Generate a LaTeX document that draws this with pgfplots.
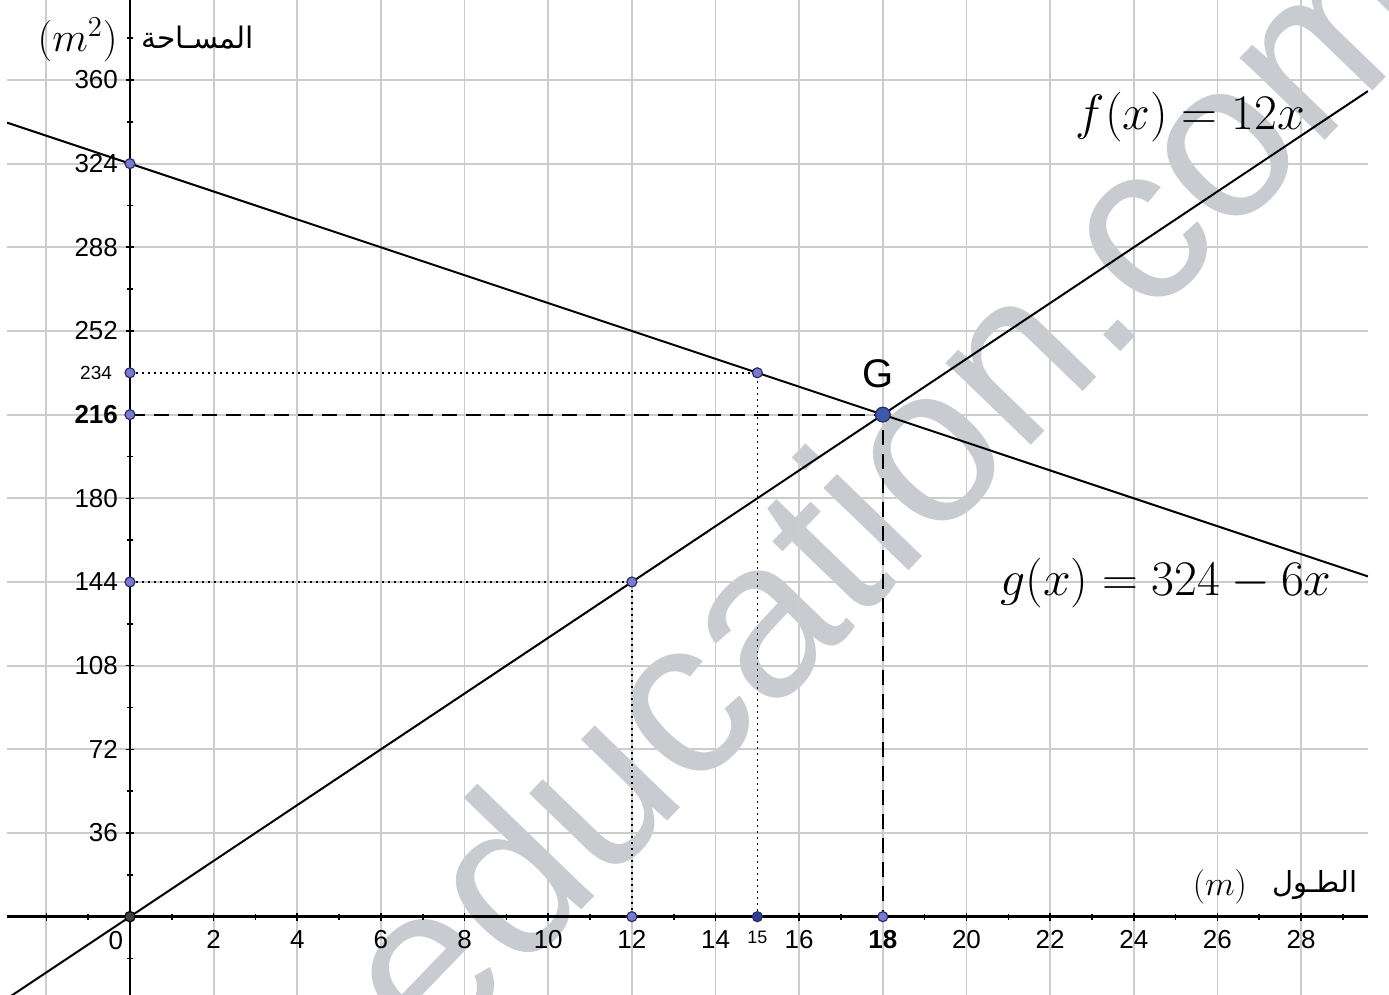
\documentclass[border=0pt]{standalone}
\usepackage[no-math]{fontspec}
\setmainfont{Liberation Sans}
\newfontfamily\arabicfont[Script=Arabic]{DejaVu Sans}
\usepackage{pgfplots}
\pgfplotsset{compat=1.18}
\TeXXeTstate=1
\definecolor{wm}{RGB}{200,204,209}
\definecolor{ptfill}{RGB}{122,122,208}
\definecolor{ptdraw}{RGB}{45,45,95}
\definecolor{gfill}{RGB}{62,88,172}
\definecolor{pfifteen}{RGB}{42,62,150}
\begin{document}
\begin{tikzpicture}
\useasboundingbox (0,0) rectangle (694.5pt,497.5pt);
% watermark (behind everything)
\begin{scope}
\clip (0,0) rectangle (694.5pt,497.5pt);
\node[rotate=46, anchor=base west, text=wm, font=\fontsize{112}{112}\selectfont, inner sep=0pt] at (215.8pt,-35.4pt) {education.com};
\end{scope}
\begin{axis}[
  at={(3.5pt,0pt)}, anchor=south west,
  scale only axis, width=680.5pt, height=497.5pt,
  xmin=-2.94, xmax=29.6, ymin=-33.7, ymax=394.4,
  axis lines=middle,
  axis line style={-, line width=1.2pt, black},
  grid=major,
  major grid style={gray!40, line width=0.9pt},
  xtick={-2,2,4,6,8,10,12,14,16,18,20,22,24,26,28},
  xticklabels={,2,4,6,8,10,12,14,16,\textbf{18},20,22,24,26,28},
  minor xtick={-1,1,3,...,29},
  ytick={36,72,108,144,180,216,252,288,324,360},
  yticklabels={36,72,108,144,180,\textbf{216},252,288,324,360},
  minor ytick={-18,18,54,...,378},
  extra x ticks={15}, extra x tick labels={15},
  extra y ticks={234}, extra y tick labels={234},
  extra x tick style={grid=none, xticklabel style={font=\fontsize{9}{10}\selectfont}},
  extra y tick style={grid=none, yticklabel style={font=\fontsize{9.5}{10}\selectfont, xshift=-3pt}},
  tick style={black, line width=0.8pt},
  major tick length=4pt, minor tick length=3pt, tick align=center,
  /pgf/number format/assume math mode=true,
  xticklabel style={font=\fontsize{13}{15}\selectfont, anchor=north, yshift=-1.5pt},
  yticklabel style={font=\fontsize{13}{15}\selectfont, anchor=east, xshift=-0.5pt},
  clip=true,
]
% guide lines
\addplot[black, line width=0.8pt, dash pattern=on 0.8pt off 2.2pt] coordinates {(0,234) (15,234) (15,0)};
\addplot[black, line width=0.8pt, dash pattern=on 0.8pt off 2.2pt] coordinates {(0,144) (12,144) (12,0)};
\addplot[black, line width=1pt, dash pattern=on 7.5pt off 4.5pt] coordinates {(0,216) (18,216) (18,0)};

% f(x) = 12x
\addplot[black, line width=1pt] coordinates {(-2.94,-35.28) (29.6,355.2)};
% g(x) = 324 - 6x
\addplot[black, line width=1pt] coordinates {(-2.94,341.64) (29.6,146.4)};

% points
\addplot[only marks, mark=*, mark size=2.5pt, mark options={fill=ptfill, draw=ptdraw, line width=0.6pt}]
  coordinates {(0,324) (0,234) (0,216) (0,144) (15,234) (12,144) (12,0) (18,0)};
\addplot[only marks, mark=*, mark size=2.5pt, mark options={fill=pfifteen, draw=ptdraw, line width=0.6pt}]
  coordinates {(15,0)};
\addplot[only marks, mark=*, mark size=2.6pt, mark options={fill=black!75, draw=black, line width=0.6pt}]
  coordinates {(0,0)};
\addplot[only marks, mark=*, mark size=3.7pt, mark options={fill=gfill, draw=ptdraw, line width=0.6pt}]
  coordinates {(18,216)};

% labels
\node[font=\fontsize{24}{28}\selectfont] at (axis cs:25.35,344.1) {$f(x)=12x$};
\node[font=\fontsize{24.5}{28}\selectfont] at (axis cs:24.77,143.6) {$g(x)=324-6x$};
\node[font=\fontsize{20}{22}\selectfont] at (axis cs:17.88,233.4) {G};
\node[font=\fontsize{22.5}{26}\selectfont] at (axis cs:-1.25,377.2) {$(m^2)$};
\node[font=\fontsize{14.8}{18}\selectfont] at (axis cs:1.62,378.0) {\arabicfont\beginR المسـاحة\endR};
\node[font=\fontsize{16}{19}\selectfont] at (axis cs:26.06,12.8) {$(m)$};
\node[font=\fontsize{14.5}{18}\selectfont] at (axis cs:28.33,13.6) {\arabicfont\beginR الطـول\endR};
\node[font=\fontsize{13}{15}\selectfont] at (axis cs:-0.335,-10.2) {0};
\end{axis}
\end{tikzpicture}
\end{document}
